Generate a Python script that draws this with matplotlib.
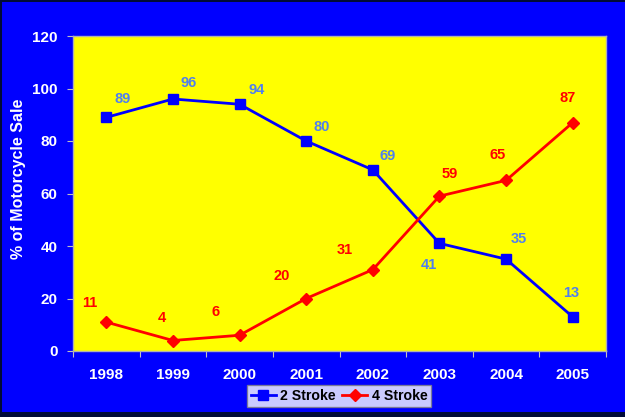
import matplotlib
matplotlib.use("Agg")
import matplotlib.pyplot as plt
from matplotlib.patches import Rectangle

plt.rcParams['font.family'] = ['Liberation Sans', 'DejaVu Sans']
plt.rcParams['font.weight'] = 'bold'

years = ['1998', '1999', '2000', '2001', '2002', '2003', '2004', '2005']
two_stroke = [89, 96, 94, 80, 69, 41, 35, 13]
four_stroke = [11, 4, 6, 20, 31, 59, 65, 87]

# label offsets in pixels (dx, dy), dy positive = up
two_offsets = [(16, 18), (16, 16), (17, 14), (16, 14), (15, 14), (-11, -22), (13, 20), (-2, 24)]
four_offsets = [(-17, 19), (-11, 22), (-24, 23), (-24, 22), (-28, 20), (10, 22), (-8, 25), (-5, 25)]

W, H = 625, 417
fig = plt.figure(figsize=(W / 100, H / 100), dpi=100)
fig.patch.set_facecolor('#000a38')
fig.patches.append(Rectangle((2 / W, (H - 412) / H), 1 - 2 / W, (412 - 2) / H,
                             transform=fig.transFigure, facecolor='#0000FF',
                             edgecolor='none', zorder=-5))

left, right, top, bottom = 73, 606, 36, 351
ax = fig.add_axes([left / W, 1 - bottom / H, (right - left) / W, (bottom - top) / H])
ax.set_zorder(2)
ax.set_facecolor('#FFFF00')

x = list(range(len(years)))
ax.plot(x, two_stroke, color='#0000FF', lw=2, marker='s', ms=7.5, label='2 Stroke', zorder=3)
ax.plot(x, four_stroke, color='#FF0000', lw=2, marker='D', ms=6.5, label='4 Stroke', zorder=3)

for xi, v, (dx, dy) in zip(x, two_stroke, two_offsets):
    ax.annotate(str(v), (xi, v), xytext=(dx, dy), textcoords='offset pixels',
                ha='center', va='center', color='#4F7FF0', fontsize=10.5, fontweight='bold')
for xi, v, (dx, dy) in zip(x, four_stroke, four_offsets):
    ax.annotate(str(v), (xi, v), xytext=(dx, dy), textcoords='offset pixels',
                ha='center', va='center', color='#FF0000', fontsize=10.5, fontweight='bold')

ax.set_xlim(-0.5, len(years) - 0.5)
ax.set_ylim(0, 120)
ax.set_yticks(range(0, 121, 20))
ax.set_xticks([i - 0.5 for i in range(len(years) + 1)])
ax.set_xticklabels([])
ax.set_xticks(x, minor=True)
ax.set_xticklabels(years, minor=True)
ax.tick_params(axis='x', which='minor', length=0, pad=12, labelsize=11, labelcolor='white')
ax.tick_params(axis='x', which='major', length=4, color='#C0C0C0', direction='out')
ax.tick_params(axis='y', length=4, color='#C0C0C0', direction='out', pad=7,
               labelsize=11, labelcolor='white')
for lbl in ax.get_xticklabels(minor=True) + ax.get_yticklabels():
    lbl.set_fontweight('bold')
for s in ax.spines.values():
    s.set_color('#B0B0B0')
    s.set_linewidth(1)

fig.text(19 / W, 1 - 179 / H, '% of Motorcycle Sale', rotation=90, ha='center', va='center',
         color='white', fontsize=11.5, fontweight='bold')

leg = fig.legend(loc='center', bbox_to_anchor=(339 / W, 1 - 396 / H), ncol=2,
                 frameon=True, fancybox=False, fontsize=10.2, handlelength=1.8,
                 columnspacing=0.4, handletextpad=0.3, borderpad=0.25, borderaxespad=0)
leg.get_frame().set_facecolor('white')
leg.get_frame().set_edgecolor('#808080')
leg.get_frame().set_linewidth(1)
for t in leg.get_texts():
    t.set_fontweight('bold')

fig.savefig('out.png', dpi=100, facecolor=fig.get_facecolor())
